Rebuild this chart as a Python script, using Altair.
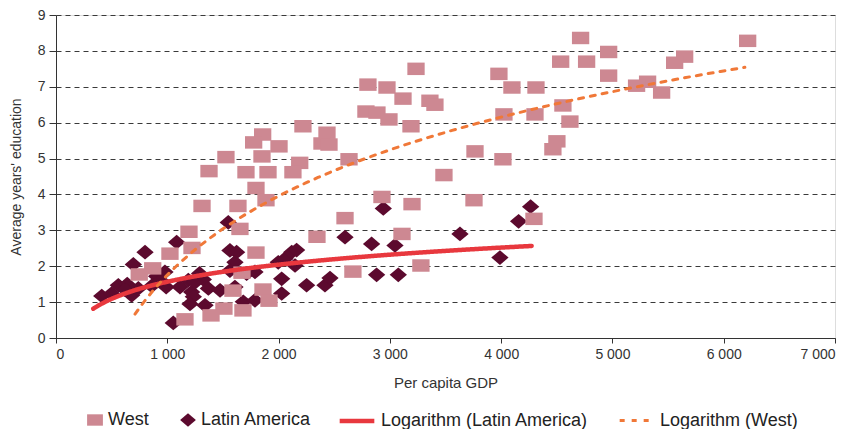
import altair as alt
import pandas as pd

# ---- data ----
west_gdp = [6215, 4714, 4966, 5649, 5559, 4535, 4768, 3980, 4966, 5316, 5217, 4097, 4313,
            5442, 4555, 4025, 4304, 4618, 4501, 4465, 3765, 4016, 3486, 3756, 4295, 3235,
            2803, 2974, 3118, 3360, 3405, 2785, 2884, 2992, 3190, 2633, 2929, 3199, 3109,
            3279, 2219, 2435, 1857, 2390, 2453, 1776, 2004, 1527, 1851, 2190, 1375, 1707,
            1905, 2129, 1797, 1887, 1312, 1635, 2597, 2345, 1195, 1653, 1222, 1797, 1671,
            2668, 1590, 1860, 1914, 1509, 1680, 1393, 1159, 1024, 869, 748]
west_edu = [8.28, 8.36, 7.97, 7.84, 7.67, 7.70, 7.70, 7.36, 7.31, 7.14, 7.03, 6.98, 6.98,
            6.84, 6.48, 6.23, 6.23, 6.03, 5.48, 5.26, 5.20, 4.98, 4.54, 3.84, 3.32, 7.50,
            7.06, 6.98, 6.67, 6.61, 6.50, 6.31, 6.28, 6.09, 5.90, 4.98, 3.93, 3.73, 2.90,
            2.02, 5.90, 5.72, 5.67, 5.42, 5.39, 5.45, 5.34, 5.04, 5.06, 4.88, 4.65, 4.62,
            4.62, 4.62, 4.18, 3.84, 3.68, 3.68, 3.34, 2.82, 2.96, 3.04, 2.51, 2.38, 1.82,
            1.85, 1.32, 1.35, 1.04, 0.82, 0.77, 0.63, 0.52, 2.35, 1.94, 1.77]

latam_gdp = [411, 500, 560, 640, 680, 695, 740, 800, 860, 904, 979, 990, 1084, 1054, 1114,
             1189, 1219, 1234, 1204, 1324, 1339, 1369, 1474, 1548, 1563, 1623, 1608, 1563,
             1608, 1683, 1713, 1788, 1788, 2028, 2028, 1997, 2058, 2118, 2148, 2162, 2252,
             2417, 2462, 2597, 2836, 2881, 2941, 3046, 3076, 3630, 3989, 4157, 4265, 1250,
             1290, 620, 940]
latam_edu = [1.17, 1.24, 1.47, 1.50, 1.19, 2.05, 1.38, 2.39, 1.45, 1.72, 1.84, 1.42, 2.67,
             0.42, 1.42, 1.61, 1.28, 1.15, 0.95, 1.63, 0.91, 1.38, 1.33, 3.22, 2.44, 2.39,
             2.11, 1.88, 1.42, 1.01, 1.79, 1.84, 1.05, 1.65, 1.24, 2.11, 2.21, 2.39, 2.02,
             2.45, 1.47, 1.47, 1.67, 2.81, 2.62, 1.76, 3.61, 2.58, 1.76, 2.90, 2.24, 3.25,
             3.66, 1.55, 1.80, 1.35, 1.60]

point_series = ["West", "Latin America"]
point_colors = ["#cd8892", "#5c0a2e"]
trend_series = ["Logarithm (Latin America)", "Logarithm (West)"]
trend_colors = ["#e8383e", "#f07838"]
la_extent = [335, 4274]
west_extent = [710, 6190]
x_ticks = [0, 1000, 2000, 3000, 4000, 5000, 6000, 7000]
y_ticks = [0, 1, 2, 3, 4, 5, 6, 7, 8, 9]

# ---- table ----
df = pd.concat([
    pd.DataFrame({"gdp": latam_gdp, "edu": latam_edu, "series": "Latin America"}),
    pd.DataFrame({"gdp": west_gdp, "edu": west_edu, "series": "West"}),
], ignore_index=True)

FONT = "Liberation Sans"
rect_path = "M-1,-0.72L1,-0.72L1,0.72L-1,0.72Z"
diamond_path = "M0,-0.85L1,0L0,0.85L-1,0Z"

x_axis = alt.Axis(values=x_ticks, grid=False, title="Per capita GDP",
                  labelExpr="replace(format(datum.value, ','), ',', ' ')",
                  tickSize=5, labelPadding=4, titlePadding=14,
                  labelFontSize=14, titleFontSize=15, titleFontWeight="normal",
                  labelFont=FONT, titleFont=FONT, labelColor="#333", titleColor="#333",
                  domainColor="#333", tickColor="#333", labelOverlap=False)
y_axis = alt.Axis(values=y_ticks, grid=True, gridDash=[5, 4], gridColor="#3a3a3a",
                  gridWidth=1, title="Average years' education", format="d",
                  tickSize=7, labelPadding=4, titlePadding=14,
                  labelFontSize=14, titleFontSize=14, titleFontWeight="normal",
                  labelFont=FONT, titleFont=FONT, labelColor="#333", titleColor="#333",
                  domainColor="#333", tickColor="#333", labelOverlap=False)

x_scale = alt.Scale(domain=[0, 7000], nice=False, zero=True)
y_scale = alt.Scale(domain=[0, 9], nice=False)

pt_legend = alt.Legend(orient="none", legendX=30, legendY=396, direction="horizontal",
                       title=None, labelFontSize=18, labelFont=FONT, labelColor="#222",
                       symbolSize=250, columnPadding=30, labelOffset=4, symbolStrokeWidth=0,
                       labelLimit=300)
ln_legend = alt.Legend(orient="none", legendX=281, legendY=386, direction="horizontal",
                       title=None, labelFontSize=18, labelFont=FONT, labelColor="#222",
                       symbolSize=1200, columnPadding=24, labelOffset=4, labelLimit=300)

points = alt.Chart(df).mark_point(filled=True, opacity=1, strokeWidth=0).encode(
    x=alt.X("gdp:Q", scale=x_scale, axis=x_axis),
    y=alt.Y("edu:Q", scale=y_scale, axis=y_axis),
    fill=alt.Fill("series:N", scale=alt.Scale(domain=point_series, range=point_colors),
                  legend=pt_legend),
    shape=alt.Shape("series:N", scale=alt.Scale(domain=point_series,
                                                range=[rect_path, diamond_path]),
                    legend=pt_legend),
    size=alt.value(300),
)

def trend(src_name, name, extent):
    return alt.Chart(df).transform_filter(
        alt.datum.series == src_name
    ).transform_regression(
        "gdp", "edu", method="log", extent=extent
    ).transform_calculate(
        trend=f'"{name}"'
    ).mark_line(strokeCap="round").encode(
        x=alt.X("gdp:Q", scale=x_scale, axis=x_axis),
        y=alt.Y("edu:Q", scale=y_scale, axis=y_axis),
        stroke=alt.Stroke("trend:N", scale=alt.Scale(domain=trend_series, range=trend_colors),
                          legend=ln_legend),
        strokeDash=alt.StrokeDash("trend:N", scale=alt.Scale(domain=trend_series,
                                                             range=[[1, 0], [5, 7]]),
                                  legend=ln_legend),
        strokeWidth=alt.StrokeWidth("trend:N", scale=alt.Scale(domain=trend_series,
                                                               range=[4.5, 3]),
                                    legend=ln_legend),
    )

la_line = trend("Latin America", trend_series[0], la_extent)
west_line = trend("West", trend_series[1], west_extent)

chart = alt.layer(points, la_line, west_line).properties(
    width=779, height=323,
    autosize=alt.AutoSizeParams(type="none"),
    padding={"left": 48, "top": 7, "right": 14, "bottom": 91},
).configure_view(stroke=None).configure(background="white")

chart.save("out.html", embed_options={"renderer": "svg", "actions": False})
